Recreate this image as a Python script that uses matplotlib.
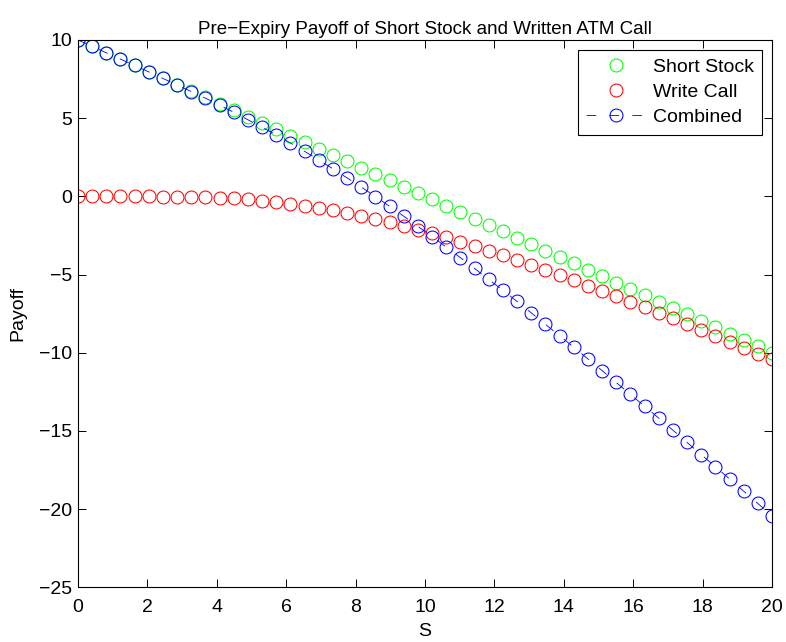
import matplotlib
matplotlib.use("Agg")
import matplotlib.pyplot as plt

# Stock prices: 50 evenly spaced points from 0 to 20
S_vals = [20 * i / 49 for i in range(50)]

# Short stock payoff (10 - S)
short_stock = [10.00, 9.59, 9.18, 8.78, 8.37, 7.96, 7.55, 7.14, 6.73, 6.33,
               5.92, 5.51, 5.10, 4.69, 4.29, 3.88, 3.47, 3.06, 2.65, 2.24,
               1.84, 1.43, 1.02, 0.61, 0.20, -0.20, -0.61, -1.02, -1.43, -1.84,
               -2.24, -2.65, -3.06, -3.47, -3.88, -4.29, -4.69, -5.10, -5.51, -5.92,
               -6.33, -6.73, -7.14, -7.55, -7.96, -8.37, -8.78, -9.18, -9.59, -10.00]

# Written ATM call value (pre-expiry)
write_call = [0.00, 0.00, 0.00, 0.00, 0.00, 0.00, -0.01, -0.01, -0.03,
              -0.05, -0.09, -0.13, -0.20, -0.27, -0.36, -0.47, -0.59, -0.73,
              -0.89, -1.06, -1.24, -1.44, -1.66, -1.88, -2.12, -2.37, -2.63,
              -2.90, -3.18, -3.47, -3.77, -4.07, -4.39, -4.71, -5.03, -5.36,
              -5.70, -6.04, -6.39, -6.74, -7.09, -7.45, -7.81, -8.18, -8.55,
              -8.92, -9.29, -9.67, -10.05, -10.43]

combined = [a + b for a, b in zip(short_stock, write_call)]

x_ticks = list(range(0, 21, 2))
y_ticks = list(range(-25, 11, 5))

plt.rcParams['font.family'] = ['Liberation Sans', 'DejaVu Sans']
plt.rcParams['lines.scale_dashes'] = False
FS = 14

fig = plt.figure(figsize=(7.86, 6.42), dpi=100)
ax = fig.add_axes([0.0992, 0.0852, 0.8830, 0.8525])

mk = dict(marker='o', mfc='none', ms=9.3, mew=0.75)
ax.plot(S_vals, short_stock, ls='none', mec=(0, 1, 0), label='Short Stock', **mk)
ax.plot(S_vals, write_call, ls='none', mec=(1, 0, 0), label='Write Call', **mk)
ax.plot(S_vals, combined, ls='--', dashes=(7, 9.5), color=(0, 0, 1), lw=0.6,
        mec=(0, 0, 1), label='Combined', **mk)

ax.set_xlim(0, 20)
ax.set_ylim(-25, 10)
ax.set_xticks(x_ticks)
ax.set_yticks(y_ticks)
ax.tick_params(direction='in', top=True, right=True, labelsize=FS, length=5.5, width=0.7)
ax.tick_params(axis='x', pad=8.5)
ax.tick_params(axis='y', pad=4)
for sp in ax.spines.values():
    sp.set_linewidth(0.8)
ax.set_xlabel('S', fontsize=FS, labelpad=5)
ax.set_ylabel('Payoff', fontsize=FS, labelpad=9)
ax.set_title('Pre\u2212Expiry Payoff of Short Stock and Written ATM Call', fontsize=13.5, pad=4)
leg = ax.legend(loc='upper right', fontsize=FS, fancybox=False, edgecolor='k',
                framealpha=1, handlelength=3, handletextpad=0.4, labelspacing=0.38,
                borderpad=0.45)
leg.get_frame().set_linewidth(0.8)
fig.savefig("out.png")
